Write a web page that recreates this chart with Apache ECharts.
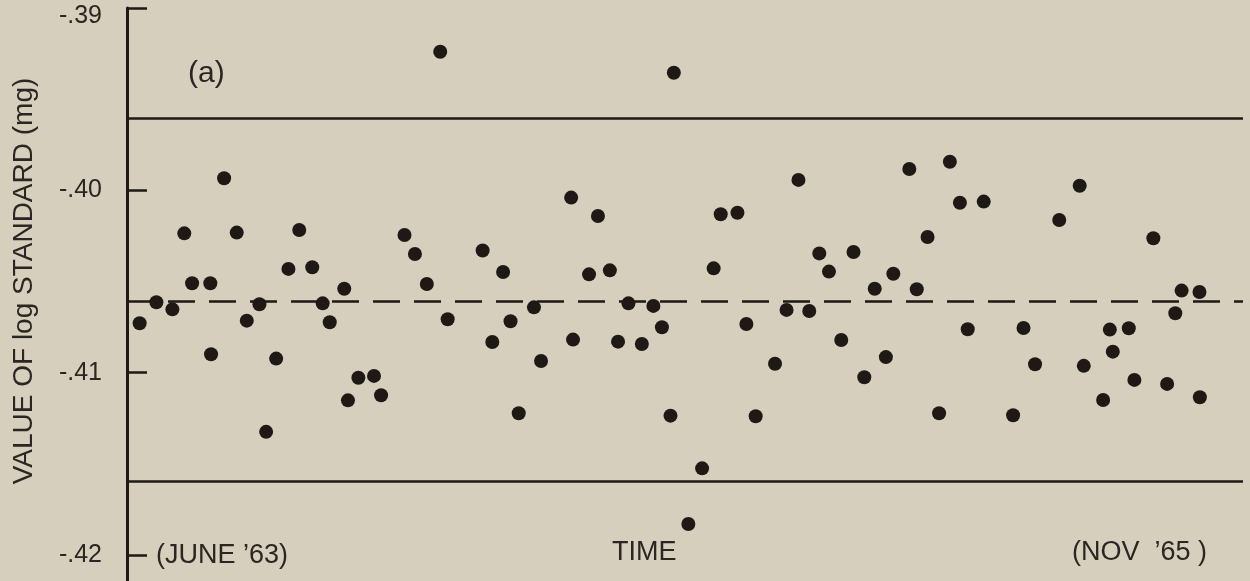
<!DOCTYPE html>
<html>
<head>
<meta charset="utf-8">
<script src="https://cdn.jsdelivr.net/npm/echarts@6/dist/echarts.min.js"></script>
<style>
  html, body { margin: 0; padding: 0; background: #d6cfbe; }
  #chart { width: 1250px; height: 581px; }
</style>
</head>
<body>
<div id="chart"></div>
<script>
// time (months after June '63) of each determination
const months = [0.34, 0.79, 1.22, 1.54, 1.75, 2.24, 2.26, 2.61, 2.95, 3.22, 3.56, 3.74, 4.01, 4.34, 4.63, 4.98, 5.26, 5.45, 5.84, 5.94, 6.22, 6.64, 6.83, 7.46, 7.74, 8.06, 8.42, 8.62, 9.56, 9.82, 10.11, 10.31, 10.53, 10.94, 11.13, 11.94, 11.99, 12.42, 12.66, 12.98, 13.20, 13.48, 13.84, 14.15, 14.38, 14.61, 14.70, 15.09, 15.46, 15.77, 15.96, 16.41, 16.65, 16.90, 17.42, 17.73, 18.05, 18.34, 18.61, 18.87, 19.20, 19.53, 19.82, 20.10, 20.40, 20.60, 21.03, 21.23, 21.52, 21.83, 22.12, 22.39, 22.60, 23.03, 23.82, 24.10, 24.41, 25.06, 25.61, 25.72, 26.24, 26.42, 26.50, 26.93, 27.08, 27.59, 27.96, 28.18, 28.35, 28.83, 28.84];
// value of 10 g standard (mg)
const values = [-0.40729, -0.40614, -0.40653, -0.40236, -0.40510, -0.40510, -0.40899, -0.39934, -0.40232, -0.40715, -0.40625, -0.41325, -0.40923, -0.40431, -0.40218, -0.40422, -0.40620, -0.40724, -0.40540, -0.41152, -0.41028, -0.41018, -0.41124, -0.40245, -0.40349, -0.40514, -0.39240, -0.40707, -0.40330, -0.40832, -0.40448, -0.40718, -0.41223, -0.40642, -0.40936, -0.40040, -0.40819, -0.40461, -0.40141, -0.40439, -0.40830, -0.40620, -0.40843, -0.40634, -0.40751, -0.41236, -0.39355, -0.41830, -0.41525, -0.40428, -0.40131, -0.40123, -0.40733, -0.41239, -0.40951, -0.40656, -0.39943, -0.40662, -0.40346, -0.40446, -0.40821, -0.40338, -0.41025, -0.40540, -0.40915, -0.40458, -0.39883, -0.40543, -0.40256, -0.41223, -0.39843, -0.40068, -0.40762, -0.40062, -0.41234, -0.40755, -0.40954, -0.40163, -0.39975, -0.40963, -0.41150, -0.40764, -0.40885, -0.40757, -0.41040, -0.40263, -0.41062, -0.40674, -0.40550, -0.40558, -0.41135];
const yTicks = [-0.42, -0.41, -0.40, -0.39];
const meanValue = -0.40607;
const upperLimit = -0.39602;
const lowerLimit = -0.41594;
const textLabels = { start: '(JUNE \u201963)', middle: 'TIME', end: '(NOV  \u201965 )', panel: '(a)', yName: 'VALUE OF log STANDARD (mg)' };

const ink = '#1e1915';
const data = months.map((m, i) => [m, values[i]]);

const chart = echarts.init(document.getElementById('chart'), null, { renderer: 'canvas' });
chart.setOption({
  backgroundColor: '#d6cfbe',
  animation: false,
  grid: { left: 127, right: 7, top: 8, bottom: 0, containLabel: false },
  xAxis: {
    type: 'value', min: 0, max: 30,
    axisLine: { show: false }, axisTick: { show: false },
    axisLabel: { show: false }, splitLine: { show: false }
  },
  yAxis: {
    type: 'value', min: -0.42143, max: -0.39,
    axisLine: { show: true, lineStyle: { color: ink, width: 3 } },
    axisTick: { show: true, inside: true, length: 20, customValues: yTicks, lineStyle: { color: ink, width: 2.5 } },
    axisLabel: {
      show: true, customValues: yTicks, margin: 25,
      color: '#2b2622', fontSize: 25, fontFamily: 'Liberation Sans',
      formatter: v => {
        const s = v.toFixed(2).replace('0.', '.');
        return v > -0.3905 ? '{top|' + s + '}' : s;
      },
      rich: { top: { fontSize: 25, fontFamily: 'Liberation Sans', color: '#2b2622', padding: [16, 0, 0, 0] } }
    },
    splitLine: { show: false }
  },
  graphic: [
    { type: 'text', left: 156, top: 542, style: { text: textLabels.start, fill: '#2b2622', font: '27px "Liberation Sans"' } },
    { type: 'text', left: 612, top: 539, style: { text: textLabels.middle, fill: '#2b2622', font: '27px "Liberation Sans"' } },
    { type: 'text', left: 1072, top: 539, style: { text: textLabels.end, fill: '#2b2622', font: '27px "Liberation Sans"' } },
    { type: 'text', left: 188, top: 59, style: { text: textLabels.panel, fill: '#2b2622', font: '30px "Liberation Sans"' } },
    { type: 'text', x: 24, y: 281, rotation: Math.PI / 2,
      style: { text: textLabels.yName, fill: '#2b2622', font: '28px "Liberation Sans"', textAlign: 'center', textVerticalAlign: 'middle' } }
  ],
  series: [{
    type: 'scatter',
    data: data,
    symbol: 'circle',
    symbolSize: 14,
    itemStyle: { color: ink, opacity: 1 },
    markLine: {
      silent: true, symbol: 'none', precision: 6, label: { show: false },
      data: [
        { yAxis: upperLimit, lineStyle: { color: ink, width: 2.5, type: 'solid', opacity: 1 } },
        { yAxis: lowerLimit, lineStyle: { color: ink, width: 2.5, type: 'solid', opacity: 1 } },
        { yAxis: meanValue, lineStyle: { color: ink, width: 2.5, type: [27, 14], opacity: 1 } }
      ]
    }
  }]
});
</script>
</body>
</html>
